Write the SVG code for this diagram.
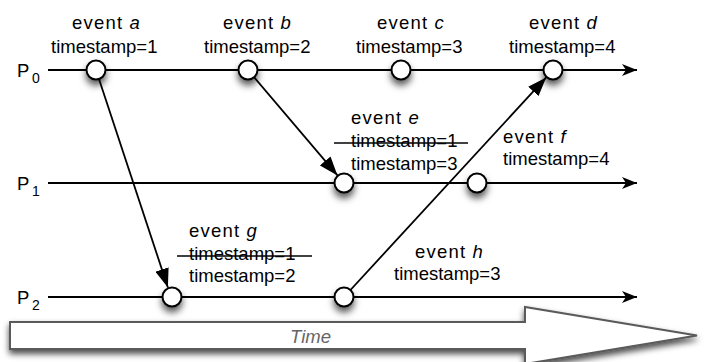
<svg xmlns="http://www.w3.org/2000/svg" width="705" height="362" viewBox="0 0 705 362">
<style>
text{font-family:"Liberation Sans",Arial,Helvetica,sans-serif;font-size:18.5px;fill:#000}
.ev{letter-spacing:1.2px}
.sub{font-size:14px}
.pline{stroke:#000;stroke-width:2;fill:none;marker-end:url(#tl)}
.msg{stroke:#000;stroke-width:1.8;fill:none;marker-end:url(#ah)}
.ev-c{fill:#fff;stroke:#000;stroke-width:2;filter:url(#sh)}
.strike{stroke:#000;stroke-width:1.6}
.time{font-style:italic;fill:#666}
</style>
<defs>
<filter id="sh" x="-100%" y="-100%" width="300%" height="350%">
<feDropShadow dx="0" dy="5" stdDeviation="3.5" flood-color="#000" flood-opacity="0.65"/>
</filter>
<filter id="sh2" x="-5%" y="-30%" width="110%" height="170%">
<feDropShadow dx="0" dy="4" stdDeviation="3" flood-color="#000" flood-opacity="0.7"/>
</filter>
<marker id="tl" markerUnits="userSpaceOnUse" markerWidth="16" markerHeight="12" refX="15" refY="6" orient="auto">
<path d="M0,0 L15,6 L0,12 L4,6 z" fill="#000"/>
</marker>
<marker id="ah" markerUnits="userSpaceOnUse" markerWidth="20" markerHeight="14" refX="19" refY="7" orient="auto">
<path d="M0,0 L19,7 L0,14 z" fill="#000"/>
</marker>
</defs>

<g id="time-arrow">
<polygon points="10,322 525,322 525,307 697,335.5 525,364 525,349 10,349" fill="#fff" stroke="#5a5a5a" stroke-width="2" filter="url(#sh2)"/>
<text class="time" x="290" y="343">Time</text>
</g>

<g id="P0">
<line class="pline" x1="48" y1="70" x2="637" y2="70"/>
<text x="17" y="77">P</text><text class="sub" x="32" y="83">0</text>
</g>
<g id="P1">
<line class="pline" x1="48" y1="183" x2="637" y2="183"/>
<text x="17" y="190">P</text><text class="sub" x="32" y="196">1</text>
</g>
<g id="P2">
<line class="pline" x1="48" y1="297" x2="637" y2="297"/>
<text x="17" y="304">P</text><text class="sub" x="32" y="310">2</text>
</g>

<g id="connectors">
<line class="msg" x1="96" y1="70" x2="167.9" y2="287.5"/>
<line class="msg" x1="248" y1="70" x2="337.5" y2="175.4"/>
<line class="msg" x1="344" y1="297" x2="546.2" y2="77.4"/>
</g>

<g id="event-a">
<circle class="ev-c" cx="96" cy="70" r="9.5"/>
<text class="ev" x="72" y="29">event <tspan font-style="italic">a</tspan></text>
<text x="51" y="53">timestamp=1</text>
</g>
<g id="event-b">
<circle class="ev-c" cx="248" cy="70" r="9.5"/>
<text class="ev" x="223" y="29">event <tspan font-style="italic">b</tspan></text>
<text x="204" y="53">timestamp=2</text>
</g>
<g id="event-c">
<circle class="ev-c" cx="401" cy="70" r="9.5"/>
<text class="ev" x="377" y="29">event <tspan font-style="italic">c</tspan></text>
<text x="356" y="53">timestamp=3</text>
</g>
<g id="event-d">
<circle class="ev-c" cx="553" cy="70" r="9.5"/>
<text class="ev" x="529" y="29">event <tspan font-style="italic">d</tspan></text>
<text x="509" y="53">timestamp=4</text>
</g>
<g id="event-e">
<circle class="ev-c" cx="344" cy="183" r="9.5"/>
<text class="ev" x="351" y="124">event <tspan font-style="italic">e</tspan></text>
<text x="351" y="147">timestamp=1</text>
<line class="strike" x1="334" y1="143" x2="468" y2="143"/>
<text x="351" y="170">timestamp=3</text>
</g>
<g id="event-f">
<circle class="ev-c" cx="477" cy="183" r="9.5"/>
<text class="ev" x="503" y="143">event <tspan font-style="italic">f</tspan></text>
<text x="503" y="165">timestamp=4</text>
</g>
<g id="event-g">
<circle class="ev-c" cx="172" cy="297" r="9.5"/>
<text class="ev" x="189" y="237">event <tspan font-style="italic">g</tspan></text>
<text x="189" y="260">timestamp=1</text>
<line class="strike" x1="177" y1="256" x2="312" y2="256"/>
<text x="189" y="282">timestamp=2</text>
</g>
<g id="event-h">
<circle class="ev-c" cx="344" cy="297" r="9.5"/>
<text class="ev" x="415" y="258">event <tspan font-style="italic">h</tspan></text>
<text x="394" y="280">timestamp=3</text>
</g>
</svg>
